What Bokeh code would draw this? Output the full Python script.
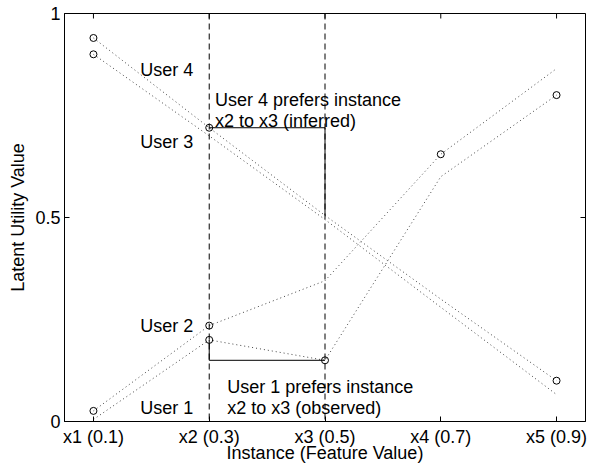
import math
from bokeh.plotting import figure
from bokeh.models import Range1d, FixedTicker, Label, Span
from bokeh.embed import file_html
from bokeh.resources import INLINE

# ---- data ----
instances = [0.1, 0.3, 0.5, 0.7, 0.9]
tick_labels = ["x1 (0.1)", "x2 (0.3)", "x3 (0.5)", "x4 (0.7)", "x5 (0.9)"]
y_ticks = [0, 0.5, 1]
y_tick_labels = ["0", "0.5", "1"]

user1 = [0.005, 0.20, 0.15, 0.60, 0.80]
user2 = [0.026, 0.235, 0.345, 0.655, 0.865]
user3 = [0.90, 0.70, 0.495, 0.28, 0.066]
user4 = [0.94, 0.72, 0.505, 0.30, 0.10]
users = {"User 1": user1, "User 2": user2, "User 3": user3, "User 4": user4}

# observed points (user, instance index)
obs_user = ["User 4", "User 3", "User 2", "User 4", "User 2", "User 1",
            "User 1", "User 2", "User 1", "User 4"]
obs_inst = [0, 0, 0, 1, 1, 1, 2, 3, 4, 4]

X_MIN, X_MAX = 0.05, 0.95
Y_MIN, Y_MAX = 0, 1

FONT = "Liberation Sans"
FS = "18px"

p = figure(width=593, height=465, x_range=Range1d(X_MIN, X_MAX),
           y_range=Range1d(Y_MIN, Y_MAX), output_backend="svg",
           toolbar_location=None)
p.min_border_left = 64
p.min_border_right = 8
p.min_border_top = 13
p.min_border_bottom = 41
p.xgrid.visible = False
p.ygrid.visible = False
p.outline_line_color = "black"
p.outline_line_alpha = 1.0
p.background_fill_color = "white"
p.border_fill_color = "white"

# dashed instance markers at x2 and x3
for xi in (instances[1], instances[2]):
    p.add_layout(Span(location=xi, dimension="height", line_color="black",
                      line_dash="6 4", line_width=1))

# user utility lines (dotted)
for name, vals in users.items():
    p.line(instances, vals, line_color="#444444", line_dash="1 3", line_width=1)

# preference indicator lines
p.line([instances[1], instances[2], instances[2]],
       [user4[1], user4[1], user4[2]], line_color="black", line_width=1)
p.line([instances[1], instances[1], instances[2]],
       [user1[1], user1[2], user1[2]], line_color="black", line_width=1)

# observed points
ox = [instances[i] for i in obs_inst]
oy = [users[u][i] for u, i in zip(obs_user, obs_inst)]
p.scatter(ox, oy, marker="circle", size=7, fill_color=None,
          line_color="black", line_width=1)

# mirrored inward ticks on top and right edges (clipped to the frame)
p.scatter(instances, [Y_MAX] * len(instances), marker="dash", angle=math.pi / 2,
          size=10, line_color="black", line_width=1)
p.scatter([X_MAX] * len(y_ticks), y_ticks, marker="dash", size=10,
          line_color="black", line_width=1)

# text labels
label_specs = [
    ("User 4", 0.181, 0.861),
    ("User 3", 0.181, 0.686),
    ("User 2", 0.181, 0.234),
    ("User 1", 0.181, 0.034),
    ("User 4 prefers instance", 0.310, 0.788),
    ("x2 to x3 (inferred)", 0.310, 0.737),
    ("User 1 prefers instance", 0.331, 0.085),
    ("x2 to x3 (observed)", 0.331, 0.034),
]
for t, lx, ly in label_specs:
    p.add_layout(Label(x=lx, y=ly, text=t, text_font=FONT, text_font_size=FS,
                       text_color="black", text_baseline="alphabetic",
                       text_align="left"))

# axes
xa = p.xaxis[0]
xa.ticker = FixedTicker(ticks=instances)
xa.major_label_overrides = {v: l for v, l in zip(instances, tick_labels)}
ya = p.yaxis[0]
ya.ticker = FixedTicker(ticks=y_ticks)
ya.major_label_overrides = {v: l for v, l in zip(y_ticks, y_tick_labels)}
for ax in (xa, ya):
    ax.major_tick_in = 5
    ax.major_tick_out = 0
    ax.minor_tick_in = 0
    ax.minor_tick_out = 0
    ax.major_label_text_font = FONT
    ax.major_label_text_font_size = FS
    ax.major_label_text_color = "black"
    ax.axis_label_text_font = FONT
    ax.axis_label_text_font_size = FS
    ax.axis_label_text_font_style = "normal"
    ax.axis_label_text_color = "black"
    ax.axis_line_color = "black"
    ax.major_tick_line_color = "black"
xa.axis_label = "Instance (Feature Value)"
xa.major_label_standoff = 5
xa.axis_label_standoff = -7
ya.axis_label = "Latent Utility Value"
ya.major_label_standoff = 4
ya.axis_label_standoff = 4

open("out.html", "w").write(file_html(p, INLINE))
